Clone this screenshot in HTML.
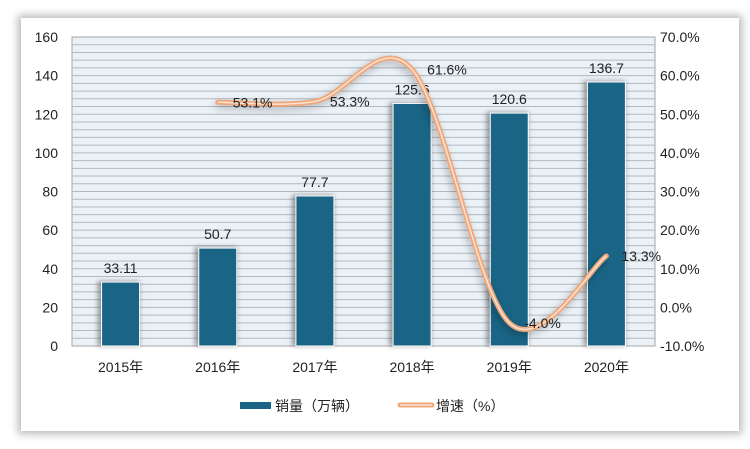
<!DOCTYPE html>
<html><head><meta charset="utf-8"><style>
body{margin:0;background:#fff;font-family:"Liberation Sans","Noto Sans CJK SC",sans-serif;}
#wrap{position:relative;width:750px;height:449px;overflow:hidden;background:#fff}
#card{position:absolute;left:21px;top:18px;width:718px;height:413px;background:#fff;box-shadow:0 0 8px 3px rgba(0,0,0,0.28)}
</style></head><body>
<div id="wrap">
<div id="card"></div>
<svg id="chart" width="750" height="449" style="position:absolute;left:0;top:0">
<defs>
<filter id="sh" x="-50%" y="-20%" width="200%" height="140%"><feGaussianBlur stdDeviation="2.5"/></filter>
<filter id="lsh" x="-20%" y="-20%" width="140%" height="140%"><feGaussianBlur stdDeviation="4"/></filter>
</defs>
</svg>
</div>
<script>
const categories=["2015年","2016年","2017年","2018年","2019年","2020年"];
const sales=[33.11,50.7,77.7,125.6,120.6,136.7];
const growth=[null,53.1,53.3,61.6,-4.0,13.3];
const leftTicks=[0,20,40,60,80,100,120,140,160];
const rightTicks=[-10,0,10,20,30,40,50,60,70];

const NS="http://www.w3.org/2000/svg";
const svg=document.getElementById('chart');
const X0=72,X1=655,Y0=346,Y1=37;
const band=(X1-X0)/categories.length;
const xc=i=>X0+band*(i+0.5);
const yL=v=>Y0-(v-0)/(160-0)*(Y0-Y1);
const yR=v=>Y0-(v+10)/(80)*(Y0-Y1);
function el(t,a,p){const e=document.createElementNS(NS,t);for(const k in a)e.setAttribute(k,a[k]);(p||svg).appendChild(e);return e;}

let bg=el('rect',{x:X0,y:Y1,width:X1-X0,height:Y0-Y1,fill:'#eaf1f7',stroke:'#a6a6a6','stroke-width':1});


for(let v=4;v<160;v+=4){
  const g=el('line',{x1:X0,x2:X1,y1:yL(v),y2:yL(v),stroke:'#b4b9be','stroke-width':1});
  
  
}
leftTicks.forEach(v=>{
  const t=el('text',{x:58,y:yL(v)+5,'text-anchor':'end','font-size':14,fill:'#222'});t.textContent=v;
  
  
});
rightTicks.forEach(v=>{
  const t=el('text',{x:660,y:yR(v)+5,'font-size':14,fill:'#222'});t.textContent=v.toFixed(1)+'%';
  
  
});
categories.forEach((c,i)=>{
  const t=el('text',{x:xc(i),y:372,'text-anchor':'middle','font-size':14,fill:'#222'});t.textContent=c;
  
  
});
const bw=38;
sales.forEach((v,i)=>{
  const s=el('rect',{x:xc(i)-bw/2-4,y:yL(v)-1,width:bw+4,height:Y0-yL(v)+1,fill:'#555',opacity:0.55,filter:'url(#sh)'});
  
  
  const b=el('rect',{x:xc(i)-bw/2,y:yL(v),width:bw,height:Y0-yL(v),fill:'#1a6586',stroke:'#fff','stroke-width':1});
  
  
  const t=el('text',{x:xc(i),y:yL(v)-9,'text-anchor':'middle','font-size':14,fill:'#222'});t.textContent=v;
  
  
});
// smooth line
const pts=[];growth.forEach((v,i)=>{if(v!==null)pts.push([xc(i),yR(v)]);});
let d='M'+pts[0][0]+','+pts[0][1];
for(let i=0;i<pts.length-1;i++){
  const p0=pts[Math.max(0,i-1)],p1=pts[i],p2=pts[i+1],p3=pts[Math.min(pts.length-1,i+2)];
  const k=1/6*1.0;
  const c1=[p1[0]+(p2[0]-p0[0])*k,p1[1]+(p2[1]-p0[1])*k];
  const c2=[p2[0]-(p3[0]-p1[0])*k,p2[1]-(p3[1]-p1[1])*k];
  d+=' C'+c1+' '+c2+' '+p2;
}
const ls=el('path',{d:d,fill:'none',stroke:'#000',opacity:0.3,'stroke-width':5,filter:'url(#lsh)',transform:'translate(-2,3)'});


const l1=el('path',{d:d,fill:'none',stroke:'#f0a77a','stroke-width':5,'stroke-linecap':'round'});


const l2=el('path',{d:d,fill:'none',stroke:'#fbe3d2','stroke-width':1.5});


growth.forEach((v,i)=>{
  if(v===null)return;
  const t=el('text',{x:xc(i)+15,y:yR(v)+5,'font-size':14,fill:'#222'});t.textContent=v.toFixed(1)+'%';
  
  
});
// legend
const lg=el('rect',{x:217,y:391,width:228,height:29,fill:'#fff',filter:'url(#lsh)',opacity:0.4});


const lb=el('rect',{x:217,y:390,width:228,height:29,fill:'#fff'});


const s1=el('rect',{x:240,y:402,width:31,height:7,fill:'#1a6586'});


const t1=el('text',{x:275,y:411,'font-size':14,fill:'#222'});t1.textContent='销量（万辆）';


const s2=el('line',{x1:400,x2:432,y1:405,y2:405,stroke:'#f0a77a','stroke-width':5,'stroke-linecap':'round'});


el('line',{x1:400,x2:432,y1:405,y2:405,stroke:'#fbe3d2','stroke-width':1.5});
const t2=el('text',{x:436,y:411,'font-size':14,fill:'#222'});t2.textContent='增速（%）';


</script>
</body></html>
